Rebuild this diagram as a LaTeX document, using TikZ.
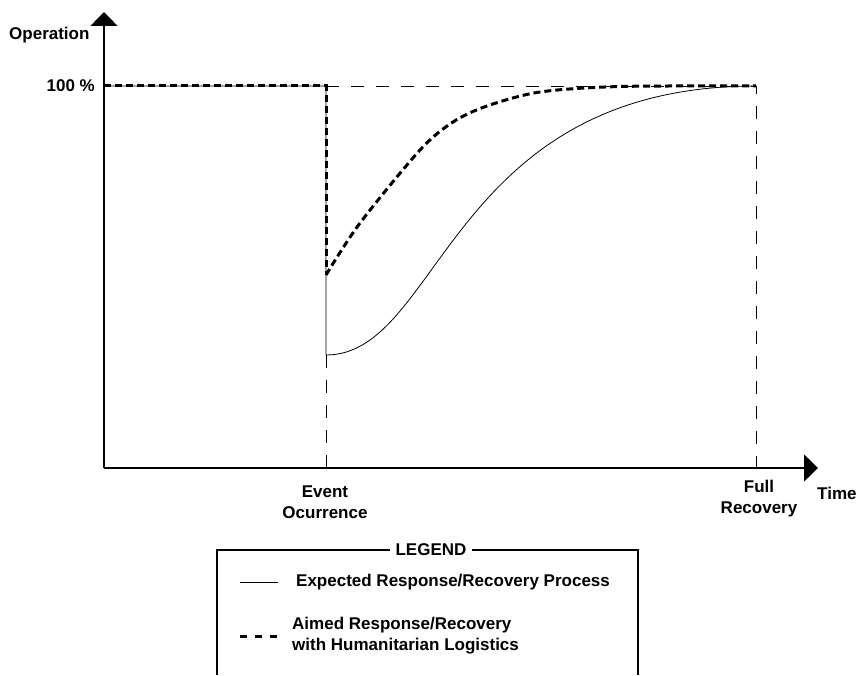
\documentclass[tikz,border=0pt]{standalone}
\usepackage{fontspec}
\setmainfont{Liberation Sans}
\usetikzlibrary{arrows.meta}

\tikzset{
  lbl/.style={font=\fontsize{17}{21}\selectfont\bfseries, inner sep=0pt},
  axis/.style={line width=1.4pt, -{Triangle[length=14pt,width=27pt]}},
  expected/.style={line width=0.8pt},
  aimed/.style={line width=3pt, dash pattern={on 7pt off 4pt}},
  guide/.style={line width=0.9pt, dash pattern={on 13pt off 12pt}},
}

\begin{document}
\begin{tikzpicture}[x=1pt,y=1pt]
\useasboundingbox (-104,-207) rectangle (754,468);

% --- Key points ---
\coordinate (origin) at (0,0);
\coordinate (ytip) at (0,456);
\coordinate (xtip) at (714,0);
\coordinate (start) at (0,382);
\coordinate (event) at (222,382);
\coordinate (eventaxis) at (222,0);
\coordinate (drop) at (222,113);
\coordinate (aimeddrop) at (222,193);
\coordinate (full) at (652,382);
\coordinate (fullaxis) at (652,0);

% Axes
\draw[axis] (origin) -- (ytip);
\draw[axis] (origin) -- (xtip);

% Guide lines
\draw[guide] (event) -- (full) -- (fullaxis);
\draw[guide] (drop) -- (eventaxis);

% Expected response/recovery
\draw[expected] (start) -- (event) -- (drop)
  .. controls (337,113) and (344,382) .. (full);

% Aimed response/recovery
\draw[aimed] (start) -- (event) -- (aimeddrop);
\draw[aimed] plot[smooth, tension=0.5] coordinates
  {(222,193) (256,245) (316,318) (349,346) (383,362) (436,376) (516,381.5) (652,382)};

% Labels
\node[lbl, anchor=west] (operation) at (-95,433) {Operation};
\node[lbl, anchor=east] (percent) at (-9,382) {100 \%};
\node[lbl, align=center] (occur) at (221,-34) {Event\\Ocurrence};
\node[lbl, align=center] (recov) at (655,-31) {Full\\Recovery};
\node[lbl, anchor=west] (time) at (713,-25) {Time};

% --- Legend ---
\draw[line width=1.6pt] (113,-207) -- (113,-82) -- (534,-82) -- (534,-207);
\node[lbl, fill=white, inner xsep=6pt, inner ysep=2pt] (legend) at (327,-82) {LEGEND};

\coordinate (solidA) at (136,-114);
\coordinate (solidB) at (174,-114);
\draw[expected] (solidA) -- (solidB);
\node[lbl, anchor=west] (expectedtext) at (192,-114) {Expected Response/Recovery Process};

\coordinate (dashA) at (136,-168);
\coordinate (dashB) at (174,-168);
\draw[aimed, dash pattern={on 7pt off 8pt}] (dashA) -- (dashB);
\node[lbl, anchor=west, align=left] (aimedtext) at (188,-168) {Aimed Response/Recovery\\with Humanitarian Logistics};

\end{tikzpicture}
\end{document}
